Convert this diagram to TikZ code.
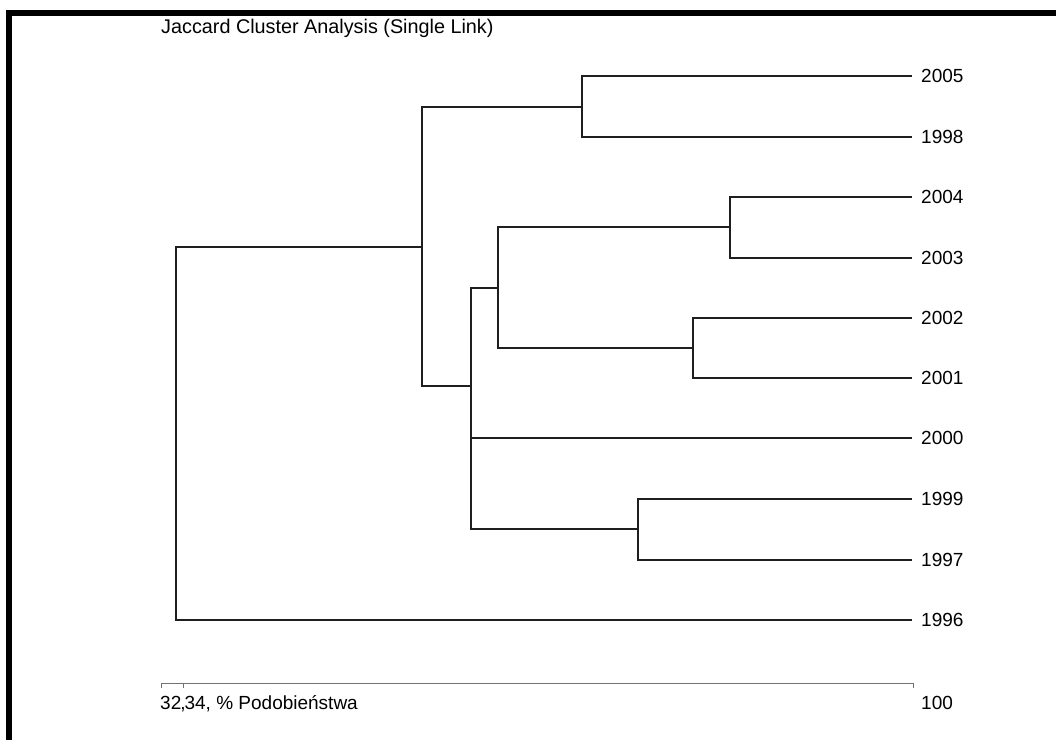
\documentclass[tikz,border=0pt]{standalone}
\usepackage{fontspec}
\setmainfont{Liberation Sans}
\begin{document}
\begin{tikzpicture}[x=1pt,y=-1pt,
  link/.style={draw=black!88, line width=1.4pt},
  axisline/.style={draw=black!55, line width=1pt},
  leaflabel/.style={anchor=west, inner xsep=9pt, inner ysep=0pt, font=\fontsize{19}{22}\selectfont},
  txt/.style={anchor=base west, inner sep=0pt, font=\fontsize{19}{22}\selectfont},
  frame/.style={fill=black}]
\useasboundingbox (0,0) rectangle (1056,740);
% frame
\fill[frame] (6,10) rectangle (1056,16);
\fill[frame] (6,10) rectangle (12,740);
% title
\node[txt, font=\fontsize{19.8}{22}\selectfont] (title) at (161,33) {Jaccard Cluster Analysis (Single Link)};
% leaf ends
\coordinate (e2005) at (912,76);
\coordinate (e1998) at (912,137);
\coordinate (e2004) at (912,197);
\coordinate (e2003) at (912,258);
\coordinate (e2002) at (912,318);
\coordinate (e2001) at (912,378);
\coordinate (e2000) at (912,438);
\coordinate (e1999) at (912,499);
\coordinate (e1997) at (912,560);
\coordinate (e1996) at (912,620);
\foreach \n in {2005,1998,2004,2003,2002,2001,2000,1999,1997,1996}
  \node[leaflabel] (l\n) at (e\n) {\n};
% junctions
\coordinate (j05) at (582,107);
\coordinate (j43) at (730,227);
\coordinate (j21) at (693,348);
\coordinate (jA) at (498,288);
\coordinate (j97) at (638,529);
\coordinate (jB) at (471,386);
\coordinate (jC) at (422,247);
\coordinate (jR) at (176,433);
% links
\draw[link] (e2005) -| (j05) |- (e1998);
\draw[link] (e2004) -| (j43) |- (e2003);
\draw[link] (e2002) -| (j21) |- (e2001);
\draw[link] (e1999) -| (j97) |- (e1997);
\draw[link] (j43) -| (jA) |- (j21);
\draw[link] (jA) -| (jB) |- (j97);
\draw[link] (jB) |- (e2000);
\draw[link] (j05) -| (jC) |- (jB);
\draw[link] (jC) -| (jR) |- (e1996);
% axis
\coordinate (a0) at (161.5,683);
\coordinate (a1) at (183.5,683);
\coordinate (a2) at (913.5,683);
\draw[axisline] (a0) -- (a2);
\draw[axisline] (a0) -- ++(0,4.5);
\draw[axisline] (a1) -- ++(0,4.5);
\draw[axisline] (a2) -- ++(0,4.5);
\node[txt] (axlab) at (160,709.5) {32\kern-1pt,\kern-1pt34, \% Podobieństwa};
\node[txt] (axmax) at (921,709.5) {100};
\end{tikzpicture}
\end{document}
